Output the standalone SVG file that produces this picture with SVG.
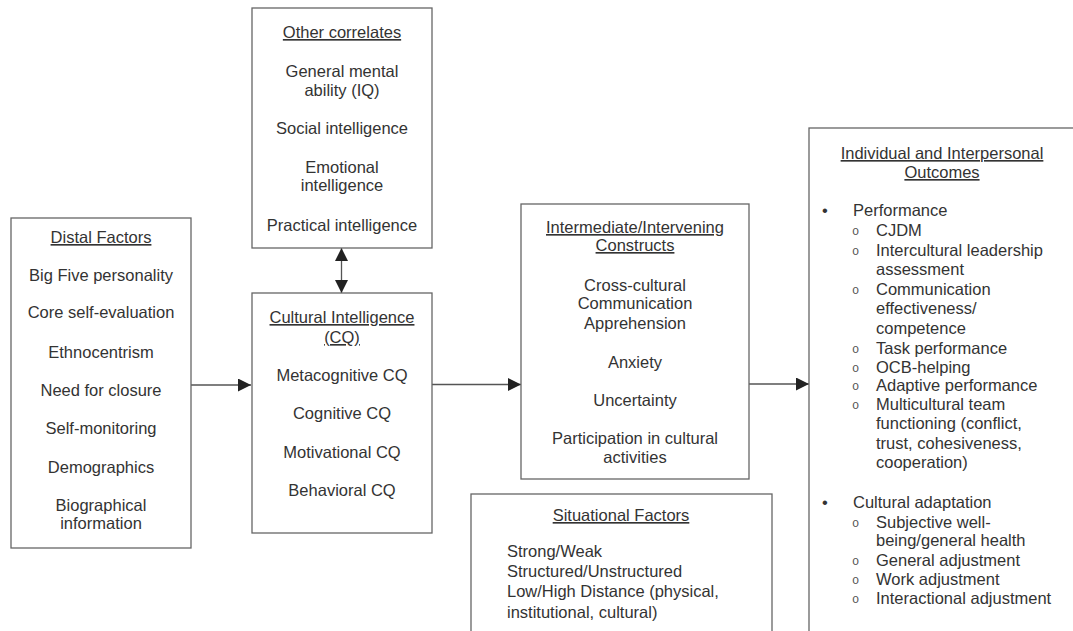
<svg xmlns="http://www.w3.org/2000/svg" width="1073" height="631" viewBox="0 0 1073 631">
<defs>
<style>
.box{fill:#fff;stroke:#666;stroke-width:1.3}
text{font-family:"Liberation Sans",Arial,sans-serif;font-size:16.5px;fill:#333}
.c{text-anchor:middle}
.t{text-decoration:underline}
.sub{font-family:"Liberation Mono","Courier New",monospace;font-size:12px;fill:#555}
.conn{stroke:#555;stroke-width:1.3;fill:none}
</style>
<marker id="ah" markerUnits="userSpaceOnUse" markerWidth="13" markerHeight="13" viewBox="0 0 12 12" refX="12" refY="6" orient="auto">
<path d="M0,0 L12,6 L0,12 Z" fill="#222"/>
</marker>
<marker id="ahs" markerUnits="userSpaceOnUse" markerWidth="13" markerHeight="13" viewBox="0 0 12 12" refX="12" refY="6" orient="auto-start-reverse">
<path d="M0,0 L12,6 L0,12 Z" fill="#222"/>
</marker>
</defs>
<rect width="1073" height="631" fill="#fff"/>

<g id="connectors">
<line class="conn" x1="191" y1="385" x2="251" y2="385" marker-end="url(#ah)"/>
<line class="conn" x1="432" y1="384.5" x2="521" y2="384.5" marker-end="url(#ah)"/>
<line class="conn" x1="749" y1="384" x2="809" y2="384" marker-end="url(#ah)"/>
<line class="conn" x1="341.5" y1="248" x2="341.5" y2="293" marker-start="url(#ahs)" marker-end="url(#ahs)"/>
</g>

<g id="distal">
<rect class="box" x="11" y="218" width="180" height="330"/>
<text class="c t" x="101" y="243">Distal Factors</text>
<text class="c" x="101" y="281">Big Five personality</text>
<text class="c" x="101" y="318">Core self-evaluation</text>
<text class="c" x="101" y="358">Ethnocentrism</text>
<text class="c" x="101" y="396">Need for closure</text>
<text class="c" x="101" y="434">Self-monitoring</text>
<text class="c" x="101" y="473">Demographics</text>
<text class="c" x="101" y="511">Biographical</text>
<text class="c" x="101" y="529">information</text>
</g>

<g id="correlates">
<rect class="box" x="252" y="8" width="180" height="240"/>
<text class="c t" x="342" y="38">Other correlates</text>
<text class="c" x="342" y="77">General mental</text>
<text class="c" x="342" y="96">ability (IQ)</text>
<text class="c" x="342" y="134">Social intelligence</text>
<text class="c" x="342" y="173">Emotional</text>
<text class="c" x="342" y="191">intelligence</text>
<text class="c" x="342" y="231">Practical intelligence</text>
</g>

<g id="cq">
<rect class="box" x="252" y="293" width="180" height="240"/>
<text class="c t" x="342" y="323">Cultural Intelligence</text>
<text class="c t" x="342" y="343">(CQ)</text>
<text class="c" x="342" y="381">Metacognitive CQ</text>
<text class="c" x="342" y="419">Cognitive CQ</text>
<text class="c" x="342" y="458">Motivational CQ</text>
<text class="c" x="342" y="496">Behavioral CQ</text>
</g>

<g id="intermediate">
<rect class="box" x="521" y="204" width="228" height="275"/>
<text class="c t" x="635" y="233">Intermediate/Intervening</text>
<text class="c t" x="635" y="251">Constructs</text>
<text class="c" x="635" y="291">Cross-cultural</text>
<text class="c" x="635" y="309">Communication</text>
<text class="c" x="635" y="329">Apprehension</text>
<text class="c" x="635" y="368">Anxiety</text>
<text class="c" x="635" y="406">Uncertainty</text>
<text class="c" x="635" y="444">Participation in cultural</text>
<text class="c" x="635" y="463">activities</text>
</g>

<g id="situational">
<rect class="box" x="471" y="494" width="301" height="160"/>
<text class="c t" x="621" y="521">Situational Factors</text>
<text x="507" y="557">Strong/Weak</text>
<text x="507" y="577">Structured/Unstructured</text>
<text x="507" y="597">Low/High Distance (physical,</text>
<text x="507" y="618">institutional, cultural)</text>
</g>

<g id="outcomes">
<rect class="box" x="809" y="128" width="290" height="530"/>
<text class="c t" x="942" y="159">Individual and Interpersonal</text>
<text class="c t" x="942" y="178">Outcomes</text>
<text x="822" y="216">•</text>
<text x="853" y="216">Performance</text>
<text class="sub" x="852" y="235">o</text><text x="876" y="236">CJDM</text>
<text class="sub" x="852" y="255">o</text><text x="876" y="256">Intercultural leadership</text>
<text x="876" y="275">assessment</text>
<text class="sub" x="852" y="294">o</text><text x="876" y="295">Communication</text>
<text x="876" y="314">effectiveness/</text>
<text x="876" y="334">competence</text>
<text class="sub" x="852" y="353">o</text><text x="876" y="354">Task performance</text>
<text class="sub" x="852" y="372">o</text><text x="876" y="373">OCB-helping</text>
<text class="sub" x="852" y="390">o</text><text x="876" y="391">Adaptive performance</text>
<text class="sub" x="852" y="409">o</text><text x="876" y="410">Multicultural team</text>
<text x="876" y="429">functioning (conflict,</text>
<text x="876" y="449">trust, cohesiveness,</text>
<text x="876" y="468">cooperation)</text>
<text x="822" y="508">•</text>
<text x="853" y="508">Cultural adaptation</text>
<text class="sub" x="852" y="527">o</text><text x="876" y="528">Subjective well-</text>
<text x="876" y="546">being/general health</text>
<text class="sub" x="852" y="565">o</text><text x="876" y="566">General adjustment</text>
<text class="sub" x="852" y="584">o</text><text x="876" y="585">Work adjustment</text>
<text class="sub" x="852" y="603">o</text><text x="876" y="604">Interactional adjustment</text>
</g>
</svg>
